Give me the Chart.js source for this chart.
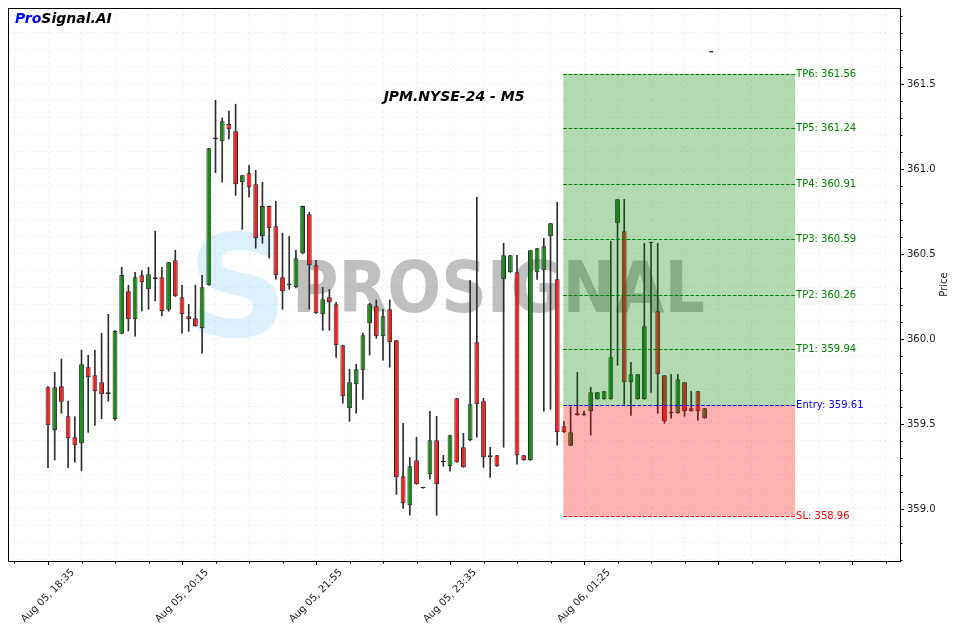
<!DOCTYPE html>
<html>
<head>
<meta charset="utf-8">
<script src="https://cdn.jsdelivr.net/npm/chart.js@4.4.1/dist/chart.umd.min.js"></script>
<style>
  html, body { margin: 0; padding: 0; background: #fff; }
  #wrap { width: 956px; height: 632px; }
</style>
</head>
<body>
<div id="wrap"><canvas id="c" width="956" height="632"></canvas></div>
<script>
// M5 candles, one per slot
const opens = [
  359.716, 359.464, 359.722, 359.545, 359.422, 359.386, 359.834, 359.786, 359.745, 359.675,
  359.529, 360.031, 360.281, 360.116, 360.375, 360.292, 360.351, 360.363, 360.172, 360.463,
  360.245, 360.134, 360.122, 360.063, 360.316, 361.176, 361.163, 361.265, 361.222, 360.922,
  360.975, 360.910, 360.604, 360.782, 360.663, 360.363, 360.316, 360.304, 360.504, 360.734,
  360.434, 360.145, 360.245, 360.204, 359.963, 359.592, 359.734, 359.816, 360.092, 360.192,
  360.016, 360.175, 359.992, 359.192, 359.022, 359.286, 359.122, 359.204, 359.404, 359.275,
  359.251, 359.651, 359.363, 359.404, 359.981, 359.634, 359.304, 359.316, 360.351, 360.392,
  360.392, 359.316, 359.286, 360.392, 360.404, 360.604, 360.351, 359.486, 359.372, 359.563,
  359.551, 359.575, 359.645, 359.645, 359.645, 360.681, 360.634, 359.745, 359.645, 359.645,
  360.563, 360.163, 359.786, 359.563, 359.563, 359.745, 359.592, 359.692, 359.534
];
const highs = [
  359.720, 359.804, 359.882, 359.634, 359.543, 359.935, 359.904, 359.934, 360.034, 360.145,
  360.050, 360.422, 360.316, 360.392, 360.402, 360.422, 360.634, 360.422, 360.451, 360.522,
  360.316, 360.204, 360.316, 360.375, 361.122, 361.404, 361.300, 361.341, 361.381, 360.963,
  361.022, 360.992, 360.922, 360.782, 360.810, 360.622, 360.604, 360.522, 360.782, 360.745,
  360.463, 360.304, 360.292, 360.216, 359.963, 359.822, 359.851, 360.034, 360.210, 360.229,
  360.175, 360.230, 359.992, 359.504, 359.304, 359.422, 359.122, 359.575, 359.545, 359.316,
  359.434, 359.651, 359.445, 360.345, 360.834, 359.651, 359.363, 359.316, 360.563, 360.492,
  360.492, 359.316, 360.522, 360.534, 360.592, 360.681, 360.804, 359.516, 359.602, 359.804,
  359.576, 359.716, 359.686, 359.692, 360.575, 360.822, 360.822, 359.863, 359.792, 360.563,
  360.563, 360.563, 359.786, 359.792, 359.792, 359.745, 359.692, 359.692, 359.592
];
const lows = [
  359.243, 359.288, 359.563, 359.243, 359.275, 359.224, 359.451, 359.492, 359.531, 359.634,
  359.522, 360.030, 360.047, 360.016, 360.165, 360.175, 360.224, 360.135, 360.163, 360.250,
  360.034, 360.045, 360.075, 359.916, 360.316, 360.978, 360.922, 361.175, 360.845, 360.645,
  360.834, 360.534, 360.563, 360.475, 360.351, 360.175, 360.292, 360.300, 360.500, 360.175,
  360.150, 360.051, 360.051, 359.892, 359.622, 359.516, 359.563, 359.645, 359.906, 360.004,
  359.875, 359.834, 359.086, 359.004, 358.963, 359.145, 359.122, 359.175, 358.963, 359.251,
  359.222, 359.275, 359.245, 359.400, 359.422, 359.245, 359.186, 359.251, 359.363, 360.392,
  359.263, 359.286, 359.286, 360.351, 359.575, 359.586, 359.375, 359.451, 359.372, 359.551,
  359.551, 359.434, 359.645, 359.645, 359.645, 359.845, 359.616, 359.551, 359.645, 359.645,
  359.686, 359.563, 359.504, 359.534, 359.563, 359.545, 359.575, 359.522, 359.534
];
const closes = [
  359.492, 359.716, 359.631, 359.416, 359.375, 359.851, 359.775, 359.692, 359.675, 359.686,
  360.047, 360.376, 360.116, 360.363, 360.334, 360.381, 360.363, 360.165, 360.451, 360.251,
  360.145, 360.116, 360.075, 360.304, 361.122, 361.176, 361.281, 361.234, 360.910, 360.963,
  360.892, 360.592, 360.782, 360.651, 360.375, 360.281, 360.322, 360.475, 360.782, 360.434,
  360.151, 360.234, 360.216, 359.963, 359.663, 359.745, 359.822, 360.022, 360.204, 360.016,
  360.134, 359.981, 359.186, 359.034, 359.251, 359.145, 359.122, 359.404, 359.145, 359.275,
  359.434, 359.275, 359.245, 359.616, 359.616, 359.304, 359.316, 359.251, 360.492, 360.492,
  359.316, 359.286, 360.522, 360.534, 360.545, 360.681, 359.451, 359.451, 359.451, 359.551,
  359.551, 359.686, 359.686, 359.692, 359.892, 360.822, 359.745, 359.792, 359.792, 360.075,
  360.563, 359.792, 359.516, 359.563, 359.763, 359.575, 359.575, 359.575, 359.592
];

// x axis ticks (slot index) and their labels
const tickIdx = [0, 20, 40, 60, 80, 100, 120];
const tickLabels = ['Aug 05, 18:35', 'Aug 05, 20:15', 'Aug 05, 21:55', 'Aug 05, 23:35', 'Aug 06, 01:25', '', ''];

// trade levels
const levelNames = ['TP6', 'TP5', 'TP4', 'TP3', 'TP2', 'TP1', 'Entry', 'SL'];
const levelValues = [361.56, 361.24, 360.91, 360.59, 360.26, 359.94, 359.61, 358.96];
const levelColors = ['#008000', '#008000', '#008000', '#008000', '#008000', '#008000', '#0000ff', '#ff0000'];
const zoneFrom = 76.9;
const zoneTo = 111.5;

// stray marker at the top
const markerIdx = [99];
const markerVal = [361.69];

const idx = opens.map((_, i) => i);
const wicks = idx.map(i => ({ x: i, y: [lows[i], highs[i]] }));
const bodies = idx.map(i => ({ x: i, y: [opens[i], closes[i]] }));
const bodyColors = idx.map(i => closes[i] >= opens[i] ? '#178a17' : '#f42020');

const font = '"DejaVu Sans", sans-serif';

const overlay = {
  id: 'overlay',
  beforeDatasetsDraw(chart) {
    const { ctx, chartArea: a } = chart;
    ctx.save();
    ctx.beginPath();
    ctx.rect(a.left, a.top, a.right - a.left, a.bottom - a.top);
    ctx.clip();
    // watermark logo + text
    ctx.fillStyle = 'rgba(110,185,245,0.22)';
    ctx.font = 'bold 140px ' + font;
    ctx.textAlign = 'center';
    ctx.fillText('S', 238, 336);
    ctx.font = 'bold 71px ' + font;
    ctx.textAlign = 'left';
    const w = ctx.measureText('PROSIGNAL').width;
    ctx.translate(292, 312);
    ctx.scale(413 / w, 1);
    ctx.fillStyle = 'rgba(90,90,90,0.38)';
    ctx.fillText('PROSIGNAL', 0, 0);
    ctx.restore();
  },
  afterDatasetsDraw(chart) {
    const { ctx, chartArea: a, scales: { x, y } } = chart;
    const x0 = x.getPixelForValue(zoneFrom);
    const x1 = x.getPixelForValue(zoneTo);
    const yTP = y.getPixelForValue(levelValues[0]);
    const yEn = y.getPixelForValue(levelValues[6]);
    const ySL = y.getPixelForValue(levelValues[7]);
    ctx.save();
    ctx.fillStyle = 'rgba(0,128,0,0.3)';
    ctx.fillRect(x0, yTP, x1 - x0, yEn - yTP);
    ctx.fillStyle = 'rgba(255,0,0,0.3)';
    ctx.fillRect(x0, yEn, x1 - x0, ySL - yEn);

    ctx.lineWidth = 1;
    ctx.setLineDash([3.7, 1.6]);
    ctx.font = '10px ' + font;
    ctx.textBaseline = 'middle';
    ctx.textAlign = 'left';
    levelValues.forEach((v, k) => {
      const py = Math.round(y.getPixelForValue(v)) + 0.5;
      ctx.strokeStyle = levelColors[k];
      ctx.beginPath();
      ctx.moveTo(x0, py);
      ctx.lineTo(x1, py);
      ctx.stroke();
      ctx.fillStyle = levelColors[k];
      ctx.fillText(levelNames[k] + ': ' + v.toFixed(2), x1 + 1, py);
    });
    ctx.setLineDash([]);

    // title and brand
    ctx.fillStyle = '#000';
    ctx.font = 'italic bold 14px ' + font;
    ctx.textAlign = 'center';
    ctx.fillText('JPM.NYSE-24 - M5', (a.left + a.right) / 2, 97);
    ctx.textAlign = 'left';
    ctx.fillStyle = '#0000ff';
    ctx.fillText('Pro', 15, 19);
    const pw = ctx.measureText('Pro').width;
    ctx.fillStyle = '#000';
    ctx.fillText('Signal.AI', 15 + pw, 19);
    ctx.restore();
  },
  afterDraw(chart) {
    const { ctx, chartArea: a, scales: { x, y } } = chart;
    ctx.save();
    ctx.strokeStyle = '#000';
    ctx.lineWidth = 1;
    ctx.strokeRect(Math.round(a.left) + 0.5, Math.round(a.top) + 0.5,
      Math.round(a.right - a.left), Math.round(a.bottom - a.top));

    // tick marks
    ctx.beginPath();
    x.ticks.forEach(t => {
      const px = Math.round(x.getPixelForValue(t.value)) + 0.5;
      const len = tickIdx.includes(t.value) ? 4 : 2.5;
      ctx.moveTo(px, a.bottom);
      ctx.lineTo(px, a.bottom + len);
    });
    y.ticks.forEach(t => {
      const py = Math.round(y.getPixelForValue(t.value)) + 0.5;
      const major = Math.abs(t.value * 2 - Math.round(t.value * 2)) < 1e-6;
      ctx.moveTo(a.right, py);
      ctx.lineTo(a.right + (major ? 4 : 2.5), py);
    });
    ctx.stroke();

    // rotated date labels
    ctx.fillStyle = '#222';
    ctx.font = '10px ' + font;
    ctx.textAlign = 'center';
    ctx.textBaseline = 'middle';
    tickIdx.forEach((v, k) => {
      if (!tickLabels[k]) return;
      ctx.save();
      ctx.translate(x.getPixelForValue(v), a.bottom + 35);
      ctx.rotate(-Math.PI / 4);
      ctx.fillText(tickLabels[k], 0, 0);
      ctx.restore();
    });

    // y axis title
    ctx.save();
    ctx.translate(944, (a.top + a.bottom) / 2);
    ctx.rotate(-Math.PI / 2);
    ctx.fillText('Price', 0, 0);
    ctx.restore();
    ctx.restore();
  }
};

new Chart(document.getElementById('c'), {
  type: 'bar',
  data: {
    datasets: [
      {
        label: 'body',
        data: bodies,
        backgroundColor: bodyColors,
        borderColor: '#2a2a2a',
        borderWidth: 1,
        borderSkipped: false,
        barPercentage: 0.72,
        categoryPercentage: 1,
        minBarLength: 1.5,
        grouped: false,
        order: 1
      },
      {
        label: 'wick',
        data: wicks,
        backgroundColor: '#2e2e2e',
        barThickness: 1,
        grouped: false,
        order: 2
      },
      {
        type: 'line',
        label: 'marker',
        data: markerIdx.map((v, k) => ({ x: v, y: markerVal[k] })),
        showLine: false,
        pointStyle: 'line',
        pointRadius: 2,
        borderColor: '#333',
        borderWidth: 1.5,
        order: 0
      }
    ]
  },
  options: {
    responsive: false,
    animation: false,
    events: [],
    layout: { padding: { left: 8, top: 8, right: 0, bottom: 0 } },
    plugins: { legend: { display: false }, tooltip: { enabled: false } },
    scales: {
      x: {
        type: 'linear',
        min: -5.97,
        max: 127.16,
        offset: false,
        afterBuildTicks: s => {
          s.ticks = [];
          for (let v = -5; v <= 125; v += 5) s.ticks.push({ value: v });
        },
        afterFit: s => { s.height = 71; s.paddingLeft = 0; s.paddingRight = 0; },
        grid: { offset: false, color: 'rgba(0,0,0,0.05)', drawTicks: false },
        border: { display: false, dash: [3, 3] },
        ticks: { display: false }
      },
      y: {
        position: 'right',
        min: 358.694,
        max: 361.947,
        afterBuildTicks: s => {
          s.ticks = [];
          for (let k = 3587; k <= 3619; k++) s.ticks.push({ value: k / 10 });
        },
        afterFit: s => { s.width = 56; s.paddingTop = 0; s.paddingBottom = 0; },
        grid: { color: 'rgba(0,0,0,0.05)', drawTicks: false },
        border: { display: false, dash: [3, 3] },
        ticks: {
          padding: 7,
          autoSkip: false,
          color: '#222',
          font: { family: 'DejaVu Sans', size: 10 },
          callback: v => Math.abs(v * 2 - Math.round(v * 2)) < 1e-6 ? v.toFixed(1) : ''
        }
      }
    }
  },
  plugins: [overlay]
});
</script>
</body>
</html>
